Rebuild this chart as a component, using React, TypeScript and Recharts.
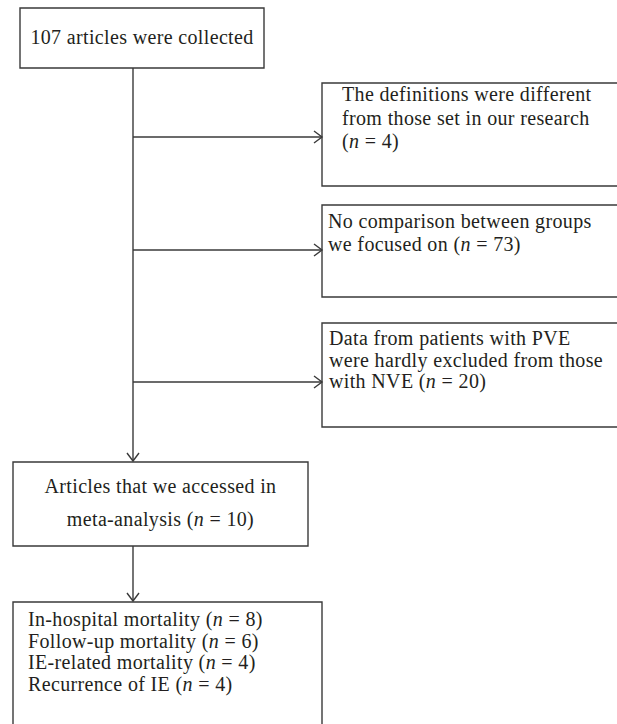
import React from "react";
import {
  ComposedChart,
  XAxis,
  YAxis,
  ReferenceArea,
  ReferenceLine,
} from "recharts";

// flow counts
const collectedCount = 107;
const collectedLabel = "articles were collected";
const excludedLabels = [
  ["The definitions were different", "from those set in our research", ""],
  ["No comparison between groups", "we focused on"],
  ["Data from patients with PVE", "were hardly excluded from those", "with NVE"],
];
const excludedCounts = [4, 73, 20];
const includedLabel = ["Articles that we accessed in", "meta-analysis"];
const includedCount = 10;
const outcomeLabels = [
  "In-hospital mortality",
  "Follow-up mortality",
  "IE-related mortality",
  "Recurrence of IE",
];
const outcomeCounts = [8, 6, 4, 4];

const W = 617;
const H = 724;
const INK = "#231f20";
const STROKE = "#3a3a3a";
const FONT = "'Liberation Serif', 'DejaVu Serif', serif";

// layout of the boxes, in page pixels
const mainX = 133;
const topBox = { x1: 20, x2: 264, y1: 8, y2: 68, first: 36, gap: 0 };
const sideBoxes = [
  { y1: 83, y2: 186, arrowY: 137, dx: 20, first: 18, gap: 23.5 },
  { y1: 205, y2: 297, arrowY: 250, dx: 6, first: 23, gap: 23 },
  { y1: 323, y2: 427, arrowY: 382, dx: 7, first: 22, gap: 21.5 },
];
const sideX1 = 322;
const sideX2 = 640;
const midBox = { x1: 13, x2: 308, y1: 462, y2: 546, first: 31, gap: 33 };
const lowBox = { x1: 13, x2: 322, y1: 602, y2: 760, dx: 15, first: 24, gap: 21.7 };

type Line = { text: string; n?: number };

const withCount = (lines: string[], n: number): Line[] =>
  lines.map((t, i) => (i === lines.length - 1 ? { text: t, n } : { text: t }));

const BoxText = (props: any) => {
  const { viewBox, lines, center, dx, first, gap } = props;
  const { x, y, width } = viewBox;
  const tx = center ? x + width / 2 : x + dx;
  return (
    <text
      fontFamily={FONT}
      fontSize={20}
      letterSpacing={0.35}
      fill={INK}
      textAnchor={center ? "middle" : "start"}
    >
      {lines.map((l: Line, i: number) => (
        <tspan key={i} x={tx} y={y + first + i * gap}>
          {l.text}
          {l.n !== undefined && (
            <>
              {l.text ? " (" : "("}
              <tspan fontStyle="italic">n</tspan>
              {` = ${l.n})`}
            </>
          )}
        </tspan>
      ))}
    </text>
  );
};

const Arrow = (props: any) => {
  const { x1, y1, x2, y2 } = props;
  const len = Math.hypot(x2 - x1, y2 - y1) || 1;
  const ux = (x2 - x1) / len;
  const uy = (y2 - y1) / len;
  const back = 8;
  const half = 6;
  const bx = x2 - ux * back;
  const by = y2 - uy * back;
  return (
    <g stroke={STROKE} strokeWidth={1.4} fill="none">
      <line x1={x1} y1={y1} x2={x2} y2={y2} />
      <polyline
        points={`${bx - uy * half},${by + ux * half} ${x2},${y2} ${bx + uy * half},${by - ux * half}`}
      />
    </g>
  );
};

const boxStyle = {
  fill: "#ffffff",
  fillOpacity: 1,
  stroke: STROKE,
  strokeWidth: 1.4,
  ifOverflow: "visible" as const,
};

export default function App() {
  return (
    <div style={{ position: "fixed", left: 0, top: 0, background: "#fff" }}>
      <ComposedChart
        width={W}
        height={H}
        margin={{ top: 0, right: 0, bottom: 0, left: 0 }}
      >
        <XAxis type="number" dataKey="x" domain={[0, W]} allowDataOverflow hide />
        <YAxis type="number" dataKey="y" domain={[0, H]} allowDataOverflow reversed hide />

        {/* spine */}
        <ReferenceLine
          segment={[{ x: mainX, y: topBox.y2 }, { x: mainX, y: midBox.y1 - 1 }]}
          ifOverflow="visible"
          shape={Arrow}
        />
        <ReferenceLine
          segment={[{ x: mainX, y: midBox.y2 }, { x: mainX, y: lowBox.y1 - 1 }]}
          ifOverflow="visible"
          shape={Arrow}
        />
        {sideBoxes.map((b, i) => (
          <ReferenceLine
            key={`arr-${i}`}
            segment={[{ x: mainX, y: b.arrowY }, { x: sideX1, y: b.arrowY }]}
            ifOverflow="visible"
            shape={Arrow}
          />
        ))}

        <ReferenceArea
          x1={topBox.x1}
          x2={topBox.x2}
          y1={topBox.y1}
          y2={topBox.y2}
          {...boxStyle}
          label={(p: any) => (
            <BoxText
              {...p}
              center
              first={topBox.first}
              gap={topBox.gap}
              lines={[{ text: `${collectedCount} ${collectedLabel}` }]}
            />
          )}
        />

        {sideBoxes.map((b, i) => (
          <ReferenceArea
            key={`ex-${i}`}
            x1={sideX1}
            x2={sideX2}
            y1={b.y1}
            y2={b.y2}
            {...boxStyle}
            label={(p: any) => (
              <BoxText
                {...p}
                dx={b.dx}
                first={b.first}
                gap={b.gap}
                lines={withCount(excludedLabels[i], excludedCounts[i])}
              />
            )}
          />
        ))}

        <ReferenceArea
          x1={midBox.x1}
          x2={midBox.x2}
          y1={midBox.y1}
          y2={midBox.y2}
          {...boxStyle}
          label={(p: any) => (
            <BoxText
              {...p}
              center
              first={midBox.first}
              gap={midBox.gap}
              lines={withCount(includedLabel, includedCount)}
            />
          )}
        />

        <ReferenceArea
          x1={lowBox.x1}
          x2={lowBox.x2}
          y1={lowBox.y1}
          y2={lowBox.y2}
          {...boxStyle}
          label={(p: any) => (
            <BoxText
              {...p}
              dx={lowBox.dx}
              first={lowBox.first}
              gap={lowBox.gap}
              lines={outcomeLabels.map((t, i) => ({ text: t, n: outcomeCounts[i] }))}
            />
          )}
        />
      </ComposedChart>
    </div>
  );
}
